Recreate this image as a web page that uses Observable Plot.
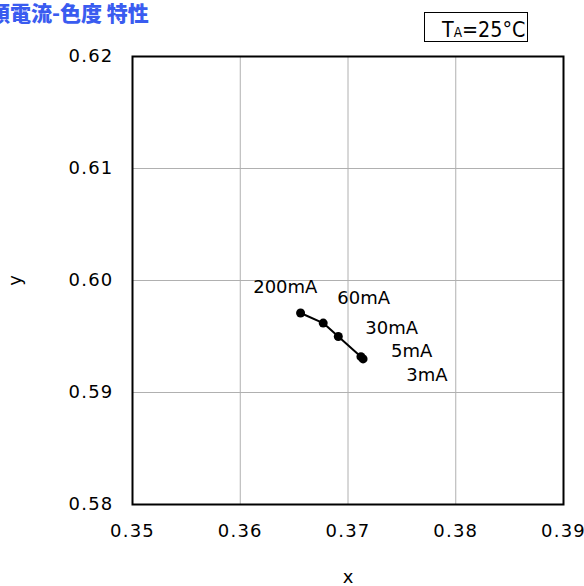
<!DOCTYPE html>
<html><head><meta charset="utf-8">
<script src="https://cdn.jsdelivr.net/npm/d3@7"></script>
<script src="https://cdn.jsdelivr.net/npm/@observablehq/plot@0.6"></script>
<style>
body{margin:0;background:#fff;}
#wrap{position:relative;width:584px;height:586px;overflow:hidden;font-family:"DejaVu Sans",sans-serif;}
#title{position:absolute;left:-11px;top:2px;font-family:"Noto Sans CJK JP",sans-serif;font-weight:900;font-size:21px;color:#3a5cf0;white-space:nowrap;line-height:1;letter-spacing:0px;}
#box{position:absolute;left:424px;top:12px;width:102px;height:28px;border:1px solid #000;box-sizing:content-box;}
#box span.t{position:absolute;left:17px;top:6px;font-size:22px;line-height:22px;white-space:nowrap;transform:scaleX(0.87);transform-origin:left center;}
#box span.s{font-size:14px;}
</style></head>
<body><div id="wrap"><div id="title">順電流-色度 特性</div><div id="box"><span class="t">T<span class="s">A</span>=25°C</span></div></div>
<script>
const currents = ["200mA","60mA","30mA","5mA","3mA"];
const xValues = [0.3656,0.3677,0.3691,0.3712,0.3714];
const yValues = [0.5971,0.5962,0.5950,0.5932,0.5930];
const labelX = [0.3612,0.3690,0.3716,0.3740,0.3754];
const labelY = [0.5994,0.5984,0.5957,0.5937,0.5915];
const xTicks = [0.35,0.36,0.37,0.38,0.39];
const yTicks = [0.58,0.59,0.60,0.61,0.62];

const pts = currents.map((c,i)=>({c, x:xValues[i], y:yValues[i], lx:labelX[i], ly:labelY[i]}));

const chart = Plot.plot({
  width:584, height:586,
  marginTop:56, marginLeft:132, marginRight:21, marginBottom:82,
  style:{fontFamily:"DejaVu Sans, sans-serif", fontSize:"18px", color:"#000", background:"transparent"},
  x:{domain:[0.35,0.39], ticks:xTicks, tickFormat:d3.format(".2f"), tickSize:0, tickPadding:20, label:"x", labelAnchor:"center", labelArrow:"none", labelOffset:78},
  y:{domain:[0.58,0.62], ticks:yTicks, tickFormat:d3.format(".2f"), tickSize:0, tickPadding:19, label:"y", labelAnchor:"center", labelArrow:"none", labelOffset:124},
  marks:[
    Plot.ruleX(xTicks.slice(1,-1), {stroke:"#b0b0b0", strokeWidth:1}),
    Plot.ruleY(yTicks.slice(1,-1), {stroke:"#b0b0b0", strokeWidth:1}),
    Plot.frame({stroke:"#000", strokeWidth:2}),
    Plot.line(pts, {x:"x", y:"y", stroke:"#000", strokeWidth:2}),
    Plot.dot(pts, {x:"x", y:"y", r:4.5, fill:"#000", stroke:"none"}),
    Plot.text(pts, {x:"lx", y:"ly", text:"c", textAnchor:"start", fontSize:18, fill:"#000"})
  ]
});
chart.querySelectorAll('[aria-label="x-axis tick label"] text, [aria-label="y-axis tick label"] text').forEach(t=>{t.style.letterSpacing="1.2px";});
chart.style.position="absolute"; chart.style.left="0"; chart.style.top="0";
document.getElementById("wrap").prepend(chart);
</script>
</body></html>
